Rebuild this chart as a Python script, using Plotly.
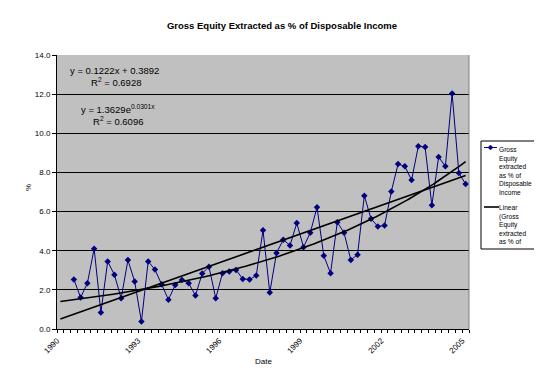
import numpy as np
import plotly.graph_objects as go

# ---- data (quarterly, period index 3..61; trendlines span index 1..61) ----
equity_pct = [2.53, 1.61, 2.34, 4.10, 0.84, 3.45, 2.77, 1.57, 3.52, 2.43,
              0.38, 3.45, 3.04, 2.29, 1.50, 2.25, 2.51, 2.34, 1.71, 2.84,
              3.18, 1.57, 2.85, 2.94, 3.02, 2.56, 2.53, 2.73, 5.05, 1.86,
              3.88, 4.56, 4.27, 5.41, 4.18, 4.92, 6.22, 3.74, 2.85, 5.45,
              4.92, 3.53, 3.80, 6.81, 5.63, 5.24, 5.29, 7.03, 8.43, 8.31,
              7.61, 9.34, 9.30, 6.32, 8.79, 8.31, 12.03, 7.97, 7.41]
first_index = 3
trend_start_index = 1
lin_slope, lin_int = 0.1222, 0.3892
exp_a, exp_b = 1.3629, 0.0301
tick_years = [1990, 1993, 1996, 1999, 2002, 2005]
tick_labels = ["1990", "1993", "1996", "1999", "2002", "2005"]
y_ticks = [0, 2, 4, 6, 8, 10, 12, 14]

def idx_to_year(i):
    return 1990.125 + (np.asarray(i, dtype=float) - 1) / 4.0

idx = np.arange(first_index, first_index + len(equity_pct))
x_data = idx_to_year(idx)
last_index = idx[-1]

t_idx = np.linspace(trend_start_index, last_index, 200)
lin_y = lin_slope * t_idx + lin_int
exp_y = exp_a * np.exp(exp_b * t_idx)

NAVY = "#000080"
FONT = "Liberation Sans, Arial, sans-serif"

fig = go.Figure()
fig.add_trace(go.Scatter(x=x_data, y=equity_pct, mode="lines+markers",
                         line=dict(color=NAVY, width=1),
                         marker=dict(symbol="diamond", size=5, color=NAVY),
                         name="Gross Equity extracted as % of Disposable Income"))
fig.add_trace(go.Scatter(x=idx_to_year(t_idx), y=lin_y, mode="lines",
                         line=dict(color="black", width=1.6), name="Linear"))
fig.add_trace(go.Scatter(x=idx_to_year(t_idx), y=exp_y, mode="lines",
                         line=dict(color="black", width=1.6), name="Expon."))

# plot geometry in pixels
L, R, T, B = 49, 461, 47, 321
W, H = 542, 370
pw, ph = R - L, B - T

def px(xp):
    return (xp - L) / pw

def py(yp):
    return (B - yp) / ph

fig.update_layout(
    width=W, height=H,
    margin=dict(l=L, r=W - R, t=T, b=H - B, pad=0),
    paper_bgcolor="white", plot_bgcolor="#C0C0C0",
    showlegend=False,
    font=dict(family=FONT, size=8, color="black"),
    title=dict(text="<b>Gross Equity Extracted as % of Disposable Income</b>",
               x=274 / W, xanchor="center", y=1 - 18 / H, yanchor="middle",
               xref="container", yref="container",
               font=dict(family=FONT, size=9.5, color="black")),
)
fig.update_xaxes(range=[1990, 2005.25], tickvals=tick_years, ticktext=tick_labels,
                 tickangle=-45, ticks="outside", ticklen=3, tickcolor="black",
                 showline=True, linecolor="black", linewidth=1, showgrid=False,
                 zeroline=False, tickfont=dict(size=8),
                 minor=dict(dtick=0.25, tick0=1990, ticks="outside", ticklen=3,
                            tickcolor="black", showgrid=False))
fig.update_yaxes(range=[0, 14], tickvals=y_ticks, tickformat=".1f",
                 ticks="outside", ticklen=4, tickcolor="black",
                 showline=True, linecolor="black", linewidth=1,
                 showgrid=True, gridcolor="black", gridwidth=1,
                 zeroline=False, tickfont=dict(size=8))

shapes = []
# right border of plot area
shapes.append(dict(type="line", xref="paper", yref="paper", x0=1, x1=1, y0=0, y1=1,
                   line=dict(color="#808080", width=1)))
# legend box
shapes.append(dict(type="rect", xref="paper", yref="paper",
                   x0=px(473), x1=px(538), y0=py(241), y1=py(133),
                   line=dict(color="black", width=1), fillcolor="white", layer="above"))
# legend samples
shapes.append(dict(type="line", xref="paper", yref="paper",
                   x0=px(476), x1=px(489), y0=py(139.5), y1=py(139.5),
                   line=dict(color=NAVY, width=1), layer="above"))
dx, dy = 2.5 / pw, 2.5 / ph
cx, cy = px(482.5), py(139.5)
shapes.append(dict(type="path", xref="paper", yref="paper",
                   path=f"M {cx-dx} {cy} L {cx} {cy+dy} L {cx+dx} {cy} L {cx} {cy-dy} Z",
                   fillcolor=NAVY, line=dict(color=NAVY, width=0.5), layer="above"))
shapes.append(dict(type="line", xref="paper", yref="paper",
                   x0=px(476), x1=px(491), y0=py(199), y1=py(199),
                   line=dict(color="black", width=1.6), layer="above"))
fig.update_layout(shapes=shapes)

ann = []
def add_text(text, xp, yp, size=9.5, xanchor="left", yanchor="middle", angle=0, align="left"):
    ann.append(dict(text=text, xref="paper", yref="paper", x=px(xp), y=py(yp),
                    xanchor=xanchor, yanchor=yanchor, showarrow=False,
                    textangle=angle, align=align,
                    font=dict(family=FONT, size=size, color="black")))

add_text("y = 0.1222x + 0.3892", 60, 62.7)
add_text("R<sup>2</sup> = 0.6928", 81, 74.3)
add_text("y = 1.3629e<sup>0.0301x</sup>", 71, 100.5)
add_text("R<sup>2</sup> = 0.6096", 83, 112.7)
add_text("%", 20, 180, size=8, xanchor="center", angle=-90)
add_text("Date", 255, 353, size=8, xanchor="center")
add_text("Gross<br>Equity<br>extracted<br>as % of<br>Disposable<br>Income",
         489.5, 136, size=6.6, yanchor="top")
add_text("Linear<br>(Gross<br>Equity<br>extracted<br>as % of", 489.5, 194.5, size=6.6, yanchor="top")
fig.update_layout(annotations=ann)

fig.write_html("out.html")
